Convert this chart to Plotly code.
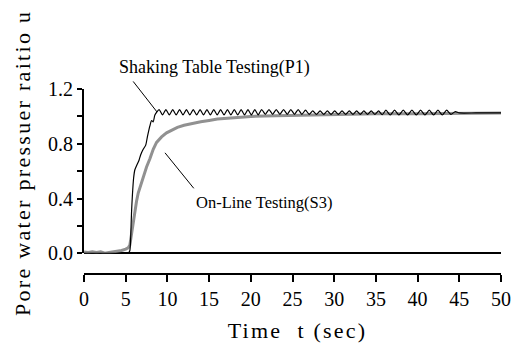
import json
import plotly.graph_objects as go

# ---------------- data ----------------
# Shaking Table Testing (P1): rise then oscillation
p1_t = [0.0, 2.0, 4.0, 5.3, 5.5, 5.6, 5.7, 5.8, 5.95, 6.1, 6.3, 6.6, 6.8, 7.1, 7.4, 7.6, 7.9, 8.1, 8.3, 8.5,
        9.00, 9.41, 9.82, 10.23, 10.64, 11.05, 11.46, 11.87, 12.28, 12.69, 13.10, 13.51, 13.92, 14.33,
        14.74, 15.15, 15.56, 15.97, 16.38, 16.79, 17.20, 17.61, 18.02, 18.43, 18.84, 19.25, 19.66, 20.07,
        20.48, 20.89, 21.30, 21.74, 22.18, 22.62, 23.05, 23.49, 23.93, 24.37, 24.80, 25.24, 25.68, 26.12,
        26.56, 27.00, 27.43, 27.87, 28.31, 28.75, 29.18, 29.62, 30.06, 30.50, 30.94, 31.38, 31.81, 32.25,
        32.69, 33.13, 33.56, 34.00, 34.44, 34.88, 35.32, 35.76, 36.20, 36.72, 37.24, 37.76, 38.28, 38.80,
        39.32, 39.84, 40.36, 40.88, 41.40, 41.92, 42.44, 42.96, 43.48, 44.00, 44.52, 45.0, 47.0, 50.0]
p1_u = [0.0, 0.0, 0.0, 0.0, 0.02, 0.12, 0.30, 0.42, 0.55, 0.61, 0.64, 0.68, 0.72, 0.76, 0.79, 0.85, 0.93, 0.97, 0.96, 1.01,
        1.05, 1.01, 1.05, 1.01, 1.05, 1.01, 1.05, 1.01, 1.05, 1.01, 1.05, 1.01, 1.05, 1.01,
        1.05, 1.01, 1.05, 1.01, 1.05, 1.01, 1.05, 1.01, 1.05, 1.01, 1.05, 1.01, 1.05, 1.01,
        1.05, 1.01, 1.05, 1.015, 1.05, 1.015, 1.05, 1.015, 1.05, 1.015, 1.05, 1.015, 1.05, 1.015,
        1.045, 1.015, 1.04, 1.015, 1.04, 1.015, 1.04, 1.015, 1.04, 1.015, 1.04, 1.015, 1.04, 1.015,
        1.04, 1.015, 1.04, 1.015, 1.04, 1.015, 1.04, 1.012, 1.045, 1.01, 1.045, 1.01, 1.045, 1.01,
        1.045, 1.01, 1.045, 1.01, 1.045, 1.01, 1.045, 1.01, 1.045, 1.015, 1.035, 1.025, 1.025, 1.025]

# On-Line Testing (S3): smooth rise to ~1.02
s3_t = [0.0, 0.5, 1.0, 1.5, 2.0, 2.5, 3.0, 3.5, 4.0, 4.5, 5.0, 5.3, 5.5, 5.7, 5.9, 6.1, 6.3, 6.5, 6.8, 7.1,
        7.5, 7.9, 8.3, 8.7, 9.3, 9.9, 10.5, 11.2, 12.0, 13.0, 14.0, 15.0, 16.0, 18.0, 20.0, 23.0, 26.0,
        30.0, 35.0, 40.0, 45.0, 50.0]
s3_u = [0.01, 0.005, 0.01, 0.005, 0.01, 0.0, 0.005, 0.01, 0.01, 0.02, 0.03, 0.04, 0.06, 0.15, 0.22, 0.30, 0.38, 0.44, 0.50, 0.56,
        0.63, 0.69, 0.76, 0.81, 0.85, 0.88, 0.90, 0.92, 0.935, 0.95, 0.96, 0.97, 0.98, 0.99, 1.0, 1.005, 1.01,
        1.015, 1.02, 1.02, 1.025, 1.025]

x_ticks = [0, 5, 10, 15, 20, 25, 30, 35, 40, 45, 50]
y_ticks = [0.0, 0.4, 0.8, 1.2]
y_ticktext = ["0.0", "0.4", "0.8", "1.2"]

label_p1 = "Shaking Table Testing(P1)"
label_s3 = "On-Line Testing(S3)"
x_title = "Time  t (sec)"
y_title = "Pore water pressuer raitio u"

# ---------------- layout helpers (pixels -> paper) ----------------
W, H = 517, 347
L, R, T, B = 84, 501, 89, 274.5
def pxx(x):
    return (x - L) / (R - L)
def pxy(y):
    return (B - y) / (B - T)
Y0_PIX = 253.7
ydom0 = (B - Y0_PIX) / (B - T)

FONT = "Liberation Serif"

fig = go.Figure()
fig.add_trace(go.Scatter(x=s3_t, y=s3_u, mode="lines",
                         line=dict(color="rgb(145,145,145)", width=3),
                         name=label_s3, showlegend=False))
fig.add_trace(go.Scatter(x=p1_t, y=p1_u, mode="lines",
                         line=dict(color="black", width=1.2, shape="spline", smoothing=0.6),
                         name=label_p1, showlegend=False))

fig.update_layout(
    width=W, height=H,
    margin=dict(l=L, r=W - R, t=T, b=H - B, pad=0, autoexpand=False),
    paper_bgcolor="white", plot_bgcolor="white",
    font=dict(family=FONT, color="black", size=20),
    xaxis=dict(range=[0, 50], tickvals=x_ticks, ticks="outside", ticklen=7, tickwidth=1.5,
               tickcolor="black", showline=True, linecolor="black", linewidth=2,
               showgrid=False, zeroline=False, anchor="free", position=0, automargin=False,
               tickfont=dict(family=FONT, size=20)),
    yaxis=dict(range=[0, 1.2], domain=[ydom0, 1], tickvals=y_ticks, ticktext=y_ticktext,
               ticks="outside", ticklen=5, tickwidth=1.5, tickcolor="black", automargin=False,
               minor=dict(dtick=0.2, ticks="outside", ticklen=5, tickwidth=1.5, tickcolor="black"),
               showline=True, linecolor="black", linewidth=2, showgrid=False,
               zeroline=True, zerolinecolor="black", zerolinewidth=2,
               tickfont=dict(family=FONT, size=20)),
)

ann = []
ann.append(dict(text=x_title, xref="paper", yref="paper", x=pxx(297), y=pxy(331),
                xanchor="center", yanchor="middle", showarrow=False,
                font=dict(family=FONT, size=22)))
ann.append(dict(text=y_title, xref="paper", yref="paper", x=pxx(23), y=pxy(163),
                xanchor="center", yanchor="middle", showarrow=False, textangle=-90,
                font=dict(family=FONT, size=22)))
ann.append(dict(text=label_p1, xref="paper", yref="paper", x=pxx(214), y=pxy(67),
                xanchor="center", yanchor="middle", showarrow=False,
                font=dict(family=FONT, size=18)))
ann.append(dict(text=label_s3, xref="paper", yref="paper", x=pxx(264), y=pxy(203),
                xanchor="center", yanchor="middle", showarrow=False,
                font=dict(family=FONT, size=16.5)))
# leader lines
ann.append(dict(text="", xref="paper", yref="paper", x=pxx(157), y=pxy(112),
                ax=-25, ay=-32, showarrow=True, arrowhead=0, arrowwidth=1, arrowcolor="black"))
ann.append(dict(text="", xref="paper", yref="paper", x=pxx(165), y=pxy(153),
                ax=30, ay=37, showarrow=True, arrowhead=0, arrowwidth=1, arrowcolor="black"))
fig.update_layout(annotations=ann)

# letter spacing (px) for the spaced-out typography of the original
spacing = {x_title: 2.2, y_title: 2.3}
post = """
(function(){
  var gd = document.getElementById('{plot_id}');
  var specs = SPECS;
  function apply(){
    gd.querySelectorAll('text.annotation-text').forEach(function(t){
      var s = specs[t.textContent.replace(/\\u00a0/g, ' ')];
      if (s !== undefined) { t.style.letterSpacing = s + 'px'; }
    });
  }
  apply();
  setTimeout(apply, 0);
  if (gd.on) { gd.on('plotly_afterplot', apply); }
})();
""".replace("SPECS", json.dumps(spacing))

fig.write_html("out.html", post_script=post)
